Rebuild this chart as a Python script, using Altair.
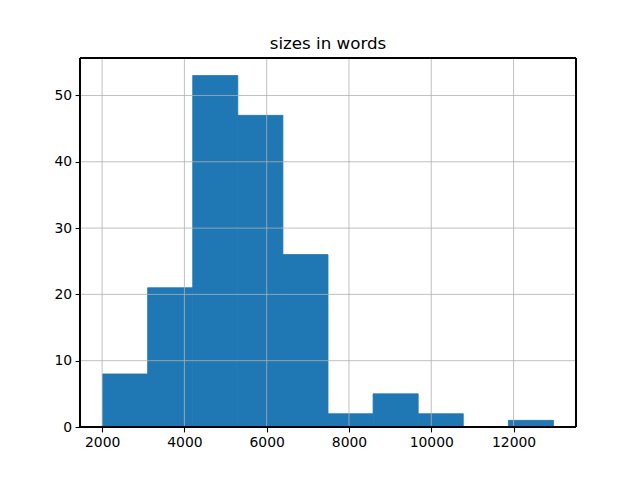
import altair as alt
import pandas as pd

bin_edges = [2010, 3106, 4202, 5298, 6394, 7490, 8586, 9682, 10778, 11874, 12970]
counts = [8, 21, 53, 47, 26, 2, 5, 2, 0, 1]
x_ticks = [2000, 4000, 6000, 8000, 10000, 12000]
y_ticks = [0, 10, 20, 30, 40, 50]

df = pd.DataFrame({
    "start": bin_edges[:-1],
    "end": bin_edges[1:],
    "count": counts,
    "zero": [0] * len(counts),
})
df = df[df["count"] > 0]
xt = pd.DataFrame({"xt": x_ticks})
yt = pd.DataFrame({"yt": y_ticks})

font = "DejaVu Sans"
W, H = 496, 369
xscale = alt.Scale(domain=[1462, 13518], nice=False, zero=False)
yscale = alt.Scale(domain=[0, 55.65], nice=False)

xaxis = alt.Axis(values=x_ticks, title=None, grid=False,
                 tickSize=4.9, tickWidth=1.1, tickColor="black", labelPadding=3.5,
                 labelFontSize=13.9, labelFont=font, labelColor="black",
                 domain=False, format="d", labelFlush=False)
yaxis = alt.Axis(values=y_ticks, title=None, grid=False,
                 tickSize=4.9, tickWidth=1.1, tickColor="black", labelPadding=3.5,
                 labelFontSize=13.9, labelFont=font, labelColor="black",
                 domain=False, labelFlush=False)

bars = alt.Chart(df).mark_rect(color="#1f77b4", stroke="#1f77b4", strokeWidth=0.8).encode(
    x=alt.X("start:Q", scale=xscale, axis=xaxis),
    x2="end:Q",
    y=alt.Y("count:Q", scale=yscale, axis=yaxis),
    y2="zero:Q",
)

xgrid = alt.Chart(xt).mark_rule(color="#b0b0b0", strokeWidth=0.8).encode(
    x=alt.X("xt:Q", scale=xscale, axis=xaxis), y=alt.value(0), y2=alt.value(H))
ygrid = alt.Chart(yt).mark_rule(color="#b0b0b0", strokeWidth=0.8).encode(
    y=alt.Y("yt:Q", scale=yscale, axis=yaxis), x=alt.value(0), x2=alt.value(W))

frame_style = dict(color="black", strokeWidth=1.1)
top = alt.Chart(xt).mark_rule(**frame_style).encode(x=alt.value(0), x2=alt.value(W), y=alt.value(0))
bottom = alt.Chart(xt).mark_rule(**frame_style).encode(x=alt.value(0), x2=alt.value(W), y=alt.value(H))
left = alt.Chart(xt).mark_rule(**frame_style).encode(x=alt.value(0), y=alt.value(0), y2=alt.value(H))
right = alt.Chart(xt).mark_rule(**frame_style).encode(x=alt.value(W), y=alt.value(0), y2=alt.value(H))

chart = alt.layer(bars, xgrid, ygrid, top, bottom, left, right).properties(
    width=W,
    height=H,
    background="white",
    title=alt.TitleParams("sizes in words", fontSize=16.7, font=font, fontWeight="normal",
                          color="black", anchor="middle", offset=8, baseline="alphabetic", dy=16),
    autosize=alt.AutoSizeParams(type="none"),
    padding={"left": 72, "top": 50, "right": 56, "bottom": 45},
).configure_view(stroke=None)

chart.save("out.html", embed_options={"renderer": "svg", "actions": False})
